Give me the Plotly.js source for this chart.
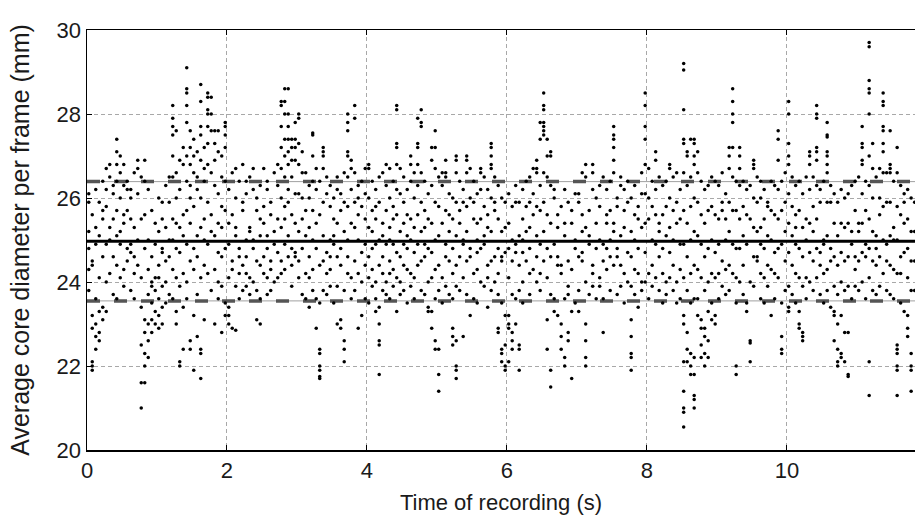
<!DOCTYPE html>
<html><head><meta charset="utf-8">
<script src="https://cdn.plot.ly/plotly-3.0.1.min.js"></script>
<style>html,body{margin:0;padding:0;background:#fff}#chart{width:915px;height:515px}</style>
</head><body><div id="chart"></div>
<script>
// Time bins of 0.05 s; each inner list = diameters (mm) read in that bin
const binWidth = 0.05;
const second0 = [
[26.1,25.9,25.2,24.8,24.3,23.8],
[25.6,24.5,24.4,23.2,22.9,22.1,22.0,21.9],
[26.2,25.3,24.9,23.6,23.0,22.7,22.4],
[25.9,25.1,24.1,23.3,22.8,22.6],
[26.4,25.7,25.5,24.6,23.4,23.1],
[26.7,26.2,24.9,24.0,23.3,25.8],
[26.8,26.5,25.0,25.3,24.2],
[26.3,26.1,25.5,24.6,23.7],
[27.4,27.1,26.8,26.4,25.7,24.4,25.1,23.6],
[27.0,26.6,26.0,25.2,24.9,24.1],
[26.8,26.3,25.4,25.6,24.3,23.9],
[26.4,25.7,24.5,24.8,26.2],
[26.2,26.0,24.7,24.9,23.8,25.5],
[26.6,25.3,24.2,23.6,24.6],
[26.9,26.7,26.1,25.0,24.4],
[26.5,25.5,24.1,23.4,22.5,21.6,21.0],
[26.9,26.4,24.8,23.1,22.8,22.3,22.0,21.6,25.6],
[26.2,25.0,24.3,23.7,23.0,22.6,22.2],
[25.7,24.6,23.9,23.5,23.1,22.8,24.0],
[25.4,24.9,24.1,23.8,23.3,23.0]
];
const second1 = [
[26.0,25.2,24.4,24.1,23.6,22.9,23.2],
[25.5,24.8,24.7,23.9,23.4,23.0,25.9],
[26.3,25.3,24.5,24.0,23.5],
[26.5,25.9,25.0,24.6,23.7],
[28.2,27.9,27.7,27.5,27.0,26.5,25.5,24.3,23.6,25.0],
[27.6,26.6,26.0,24.8,24.1,23.3,23.0,25.4],
[26.9,26.2,25.3,24.7,23.9,22.1,22.0],
[27.2,26.8,25.6,25.1,24.2,23.4,22.4],
[29.1,28.6,28.5,28.2,27.8,27.0,26.4,25.7,24.9,24.0,23.6],
[27.6,27.2,26.8,26.0,25.4,24.5,22.6,22.4,26.3],
[27.4,27.0,26.6,25.8,24.8,24.3,23.2,21.9],
[27.1,26.5,26.2,25.1,24.6,23.7,22.7],
[28.7,28.3,27.7,27.5,26.9,26.0,25.3,24.1,22.4,22.3,21.7],
[27.2,26.7,26.4,25.5,24.4,23.1,25.0],
[28.5,28.4,28.1,28.0,27.7,27.3,26.8,25.9,24.9,24.2],
[28.4,28.0,27.6,26.6,25.6,25.2,23.8],
[27.6,27.3,26.9,26.3,25.1,24.3,23.0],
[27.6,27.1,26.1,25.4,24.7,23.6,24.0],
[27.0,26.5,25.8,24.6,23.9,22.8,25.3],
[27.8,27.7,27.5,27.2,26.4,25.7,24.8,23.5,23.2]
];
const second2 = [
[26.2,25.4,24.9,24.1,23.4,23.2,23.0],
[26.6,25.6,24.3,24.5,22.9],
[26.7,26.0,25.1,23.9,22.85,25.3],
[26.4,24.8,24.6,23.6,24.2],
[26.8,25.9,25.7,24.4,23.8],
[26.1,25.0,24.6,24.2,23.9,26.4],
[26.5,25.3,25.2,24.1,23.7],
[26.7,26.2,25.0,24.0,24.8],
[26.0,25.7,24.5,23.8,23.1],
[26.3,25.1,24.4,23.6,23.0,25.5],
[26.7,25.8,25.4,24.2,24.6],
[26.4,26.2,24.8,24.1,23.7,25.1],
[25.9,25.6,24.5,24.3,23.8],
[26.6,25.2,24.9,24.0],
[26.8,26.3,25.5,24.7,24.1],
[28.3,28.2,27.7,27.2,26.7,26.0,25.3,24.5,24.2],
[28.6,28.3,28.0,27.4,27.0,26.5,25.8,24.9,24.3,25.5],
[28.6,28.0,27.7,27.4,27.1,26.8,26.2,25.1,24.6,25.9],
[27.4,27.2,26.9,26.5,25.6,24.8,24.4,23.9],
[27.8,27.4,27.2,26.9,26.1,25.4,24.6,24.7]
];
const second3 = [
[28.0,27.9,27.3,26.8,26.1,25.2,24.5,24.1],
[27.1,26.6,26.0,25.5,24.8,23.7],
[26.6,25.7,25.1,24.2,23.6],
[26.3,26.0,24.6,24.1,23.4,25.3],
[27.55,27.5,27.0,26.4,25.7,25.0,24.3,23.8],
[26.7,26.2,25.4,24.8,22.9,23.6],
[26.4,25.6,24.4,23.5,22.4,22.3,22.0,21.9,21.75,21.7],
[27.2,27.1,27.0,26.7,25.9,25.1,24.5,23.8],
[26.5,26.1,24.7,24.2,23.7],
[26.3,25.8,25.0,24.3,23.9,24.6],
[26.0,25.5,24.9,23.5,25.1],
[26.5,26.2,25.4,24.6,23.9,23.0],
[26.1,25.7,24.8,24.4,23.1,22.9],
[26.6,25.9,25.2,23.8,22.6,22.4,22.1],
[28.0,27.8,27.6,27.1,27.0,26.5,25.8,25.0,24.2,24.6],
[26.9,26.7,26.2,25.4,23.6,24.1],
[28.2,27.9,26.6,25.9,25.3,24.5,23.8],
[26.3,25.6,25.0,24.2,22.9,26.0],
[26.4,25.8,24.7,24.0,23.2],
[26.7,26.1,25.5,24.4,23.6,24.9]
];
const second4 = [
[26.8,26.7,26.0,25.3,24.6,24.1,23.5],
[26.4,25.7,25.2,24.8,23.9,24.3],
[26.2,25.5,24.9,24.0,23.6,23.3,25.8],
[26.5,25.9,25.0,24.4,23.4,23.0,22.6,22.5,21.8],
[26.6,25.4,25.1,24.6,23.8,24.2],
[26.8,26.3,25.7,24.9,24.0,23.7],
[26.7,26.0,25.3,24.5,24.2,23.6,25.0],
[26.4,25.8,24.9,24.3,23.9,25.5],
[28.2,28.1,27.3,27.2,26.8,26.2,25.6,24.7,24.1,23.3],
[26.7,26.1,25.2,24.6,24.0,23.7],
[26.5,25.9,25.4,24.4,23.8,24.9],
[26.2,25.6,24.8,24.3,23.5,25.1],
[27.0,26.8,26.4,25.5,25.0,24.2,23.9],
[26.6,26.0,25.3,24.7,24.1,23.6],
[27.9,27.3,27.2,26.8,26.3,25.6,24.9,24.4],
[28.1,27.8,27.7,26.6,25.9,25.2,24.5,23.8],
[26.4,25.7,24.9,24.6,23.7,25.3],
[26.1,25.5,24.8,24.0,23.4,23.3],
[27.2,26.9,26.3,25.4,24.7,24.1,23.3,22.9],
[27.6,27.2,26.7,25.9,25.0,24.3,23.6,22.6,22.4]
];
const second5 = [
[26.5,25.8,25.1,24.4,23.8,22.4,21.8,21.4],
[26.6,26.3,25.4,24.1,23.5],
[26.9,26.6,26.5,25.7,24.9,24.6,23.9],
[26.1,25.6,25.2,24.5,23.7],
[26.0,24.8,24.2,23.6,22.9,22.7,22.5,25.5],
[27.0,26.9,26.6,25.9,25.1,24.4,23.9,22.6,22.0,21.9,21.7],
[26.4,25.7,25.4,24.6,23.8],
[26.2,25.0,24.9,24.1,22.7,25.9],
[27.0,26.9,26.6,25.8,25.2,24.5,23.7],
[26.7,26.0,24.8,24.6,23.2],
[26.4,25.9,25.5,24.2,23.6],
[26.1,25.4,24.7,24.3,23.5,25.0],
[26.7,26.6,26.2,25.5,24.8,24.0],
[26.5,25.8,25.1,24.9,23.9],
[26.2,25.6,24.4,24.1,23.4,25.3],
[27.3,27.2,27.0,26.8,26.7,26.0,25.2,24.5,23.8],
[26.5,25.9,25.7,24.6,24.0],
[26.3,25.5,24.8,24.2,23.7,22.9,22.8],
[26.0,25.2,24.6,24.5,23.5,22.4,22.3,22.1],
[25.9,25.3,24.7,23.2,22.5,22.0,21.9]
];
const second6 = [
[26.1,25.4,24.8,24.1,23.2,23.0,22.9,22.1],
[25.8,25.0,24.5,23.7,22.8,22.6,22.4],
[26.3,25.9,24.9,24.7,23.6,23.0],
[25.9,25.1,24.4,23.8,22.5,22.4,21.9],
[26.2,25.5,24.7,24.0,23.5,25.0],
[26.4,25.8,25.2,24.5],
[26.5,25.9,25.3,24.8,24.2,23.7],
[26.7,26.1,25.6,24.3],
[26.9,26.7,26.6,25.8,25.1,24.6,24.0],
[27.4,27.8,26.3,25.7,24.9,24.2,23.8],
[28.5,28.2,28.1,27.8,27.7,27.6,27.5,26.6,25.9,25.2,24.5],
[27.4,27.0,26.5,25.6,24.8,24.1,23.1,22.4],
[27.1,27.0,26.3,25.4,24.6,23.7,21.9,21.5],
[26.2,26.0,24.9,23.6,23.3],
[25.6,25.3,24.6,24.4,23.2],
[25.8,24.4,24.2,23.0,22.7,22.4],
[26.2,25.4,25.1,23.6,22.2,22.0],
[25.9,24.5,23.9,23.7,22.8,22.6],
[25.7,25.4,24.3,23.3,21.7],
[26.1,25.0,24.8,23.5]
];
const second7 = [
[26.1,25.9,24.6,23.8,23.3],
[26.6,25.2,24.7,24.5,25.6],
[26.8,26.5,25.3,24.0,23.0,22.6,22.2,22.0],
[25.7,25.1,24.9,23.7],
[26.8,26.6,26.2,24.4,24.2,23.9],
[26.0,25.4,24.8,23.6],
[26.3,25.8,24.1,23.9,25.0],
[26.5,24.9,24.5,22.8,23.6],
[25.6,25.4,24.3,24.8,26.2],
[25.7,25.0,24.6,23.8,26.4],
[27.7,27.5,27.4,27.2,26.9,26.6,25.4,25.2,24.4],
[26.0,25.8,24.8,24.6,23.7],
[26.5,26.3,24.4,23.9,25.1],
[26.2,25.3,24.2,23.5,25.7],
[26.4,25.9,24.7,24.0],
[26.0,25.2,24.6,23.9,23.1,22.7,22.3,22.2,21.9],
[26.3,25.0,24.3,25.6,23.7],
[25.8,25.5,24.8,24.2,23.4],
[26.6,25.3,24.0,23.8,26.1],
[28.5,28.2,27.7,27.4,26.8,26.1,25.4,24.7,24.0]
];
const second8 = [
[26.7,26.0,25.5,24.2,23.6],
[26.4,25.0,24.4,23.9,25.8],
[27.1,26.9,26.2,25.6,24.9,24.1],
[26.5,25.2,24.6,23.8,25.4],
[26.3,25.6,24.8,24.2,23.5],
[26.4,25.8,25.1,24.0,23.7],
[26.8,26.7,26.0,25.3,24.7,24.1],
[26.5,25.7,24.4,23.8,25.0],
[26.6,25.9,25.4,24.0,23.5],
[26.2,25.5,24.9,24.3,23.6],
[29.2,29.05,28.1,27.4,27.3,26.6,25.7,24.9,24.1,23.2,23.0,22.1,21.4,21.0,20.9,20.55],
[27.1,27.0,26.3,25.4,24.6,23.8,22.8,22.4,22.1],
[27.4,26.5,25.8,25.0,24.2,23.5,22.3,22.0,21.8],
[27.4,27.3,27.0,26.8,26.0,25.2,24.4,23.6,22.2,21.3,21.2,21.0,21.8],
[27.1,26.6,25.9,25.1,24.3,23.6,23.2],
[26.4,25.6,24.9,24.1,23.1,22.9,22.5,22.2],
[26.2,25.4,24.6,23.8,22.9,22.7,22.3,22.0],
[26.3,25.7,24.8,24.0,23.3,22.6,22.2],
[26.5,25.8,25.0,24.2,23.5,23.1],
[26.4,25.6,24.7,24.1,23.2,23.0]
];
const second9 = [
[26.3,25.5,24.2,23.6,24.9],
[26.6,25.9,25.7,24.5,23.9],
[26.1,25.0,24.3,23.7,25.5],
[27.2,27.0,26.7,25.9,25.2,24.4,23.8],
[28.6,28.3,28.0,27.8,27.2,26.5,25.7,24.9,24.2],
[26.4,25.7,24.8,24.1,23.5,22.0,21.8],
[27.2,27.0,26.7,26.3,25.5,24.8,24.0],
[26.4,25.1,24.4,23.7,25.8],
[26.2,25.6,24.9,23.5,23.3],
[26.3,25.5,24.0,22.6,22.55,22.1],
[26.9,26.8,26.7,26.0,25.3,24.6,23.9],
[26.5,25.2,24.5,24.6,25.9],
[26.4,26.0,24.9,24.2,23.6,25.3],
[26.2,24.8,24.1,23.5,25.5],
[25.9,25.8,25.1,24.4,23.9],
[26.4,25.0,24.3,23.2,25.7],
[26.3,25.6,24.7,24.2,23.6],
[27.6,27.4,26.9,26.2,25.5,24.8,24.1],
[26.4,25.7,24.9,23.5,22.7,22.4,22.3],
[26.6,25.2,24.5,23.8,25.9]
];
const second10 = [
[28.3,28.0,27.3,27.0,26.8,26.1,25.4,24.7,23.9,23.4,23.3],
[26.5,25.8,24.4,23.7,25.1],
[26.3,25.6,24.9,24.2,23.5,25.3],
[26.4,25.7,24.8,24.1,23.3,23.0,22.9],
[26.1,25.3,24.6,23.9,22.8,22.7,22.6],
[26.5,25.5,25.0,24.1,23.6],
[27.1,27.0,26.8,26.2,25.4,24.7,24.0],
[26.5,25.2,24.5,23.8,25.8],
[28.2,28.0,27.9,27.2,27.1,26.9,26.3,25.5,24.8,24.1],
[26.2,25.9,24.7,24.4,23.7],
[26.4,25.0,24.9,24.2,23.5],
[27.8,27.5,27.45,27.1,27.0,26.8,26.6,25.9,25.1,24.3,23.8],
[26.3,25.9,24.8,24.5,23.4],
[26.1,25.4,24.6,23.9,23.3,23.2,22.6],
[25.9,25.1,24.4,23.7,23.0,22.4,22.1,22.0],
[26.2,25.4,24.7,24.0,23.2,22.3,22.2],
[26.0,25.3,24.5,23.8,22.8,22.1],
[26.1,25.4,24.6,23.9,22.8,21.8,21.75],
[26.3,25.2,24.9,23.6],
[26.4,25.7,24.6,24.3,23.9]
];
const second11 = [
[26.5,25.4,25.2,24.5,23.8],
[27.7,27.3,27.2,26.9,26.8,26.1,25.4,24.7,24.0],
[26.4,25.7,24.9,24.6,23.6],
[29.7,29.6,28.8,28.6,28.5,28.0,27.0,26.3,25.5,24.8,24.1,22.1,21.3],
[27.3,26.7,26.0,25.2,24.5,23.8],
[26.5,25.1,24.8,24.4,23.7],
[26.7,26.0,25.6,24.6,23.9],
[28.5,28.3,28.2,27.7,27.6,27.3,27.1,26.6,25.8,25.0,24.2],
[26.6,25.9,24.9,24.5,23.8],
[27.6,26.8,26.7,26.6,25.9,25.1,24.4,23.7],
[26.4,25.3,25.0,24.3,23.6],
[27.2,26.6,25.8,25.0,24.2,22.5,22.4,22.3,22.0,21.9,21.3],
[26.3,25.6,24.6,24.2,23.5],
[26.1,25.4,24.7,23.3,25.9],
[26.2,25.5,24.8,24.1,23.2,22.9,22.7],
[26.0,25.2,24.5,23.8,22.3,22.0,21.9,21.4],
[25.9,25.2,24.5,23.8]
];

const meanDiameter = 24.97;
const upperLimit = 26.39;
const lowerLimit = 23.55;
const xTickVals = [0, 2, 4, 6, 8, 10];
const yTickVals = [20, 22, 24, 26, 28, 30];
const xRange = [0, 11.83];
const yRange = [20, 30];

const allBins = [].concat(second0, second1, second2, second3, second4, second5,
  second6, second7, second8, second9, second10, second11);
const times = [], diam = [];
allBins.forEach((vals, i) => {
  vals.forEach(v => { times.push((i + 0.5) * binWidth); diam.push(v); });
});

const fontFam = 'Liberation Sans, Arial, sans-serif';
const txt = '#1a1a1a';
const traces = [
  {x: xRange, y: [upperLimit, upperLimit], mode: 'lines', line: {color: '#a0a0a0', width: 1}, hoverinfo: 'skip'},
  {x: xRange, y: [lowerLimit, lowerLimit], mode: 'lines', line: {color: '#a0a0a0', width: 1}, hoverinfo: 'skip'},
  {x: xRange, y: [upperLimit, upperLimit], mode: 'lines', line: {color: '#555555', width: 3.5, dash: '13px,14px'}, hoverinfo: 'skip'},
  {x: xRange, y: [lowerLimit, lowerLimit], mode: 'lines', line: {color: '#555555', width: 3.5, dash: '13px,14px'}, hoverinfo: 'skip'},
  {x: xRange, y: [meanDiameter, meanDiameter], mode: 'lines', line: {color: '#000000', width: 3}, hoverinfo: 'skip'},
  {x: times, y: diam, mode: 'markers', type: 'scatter',
   marker: {color: '#000000', size: 3.5}}
];

const layout = {
  width: 915, height: 515,
  margin: {l: 87, r: 0, t: 30, b: 65},
  showlegend: false,
  paper_bgcolor: '#ffffff', plot_bgcolor: '#ffffff',
  font: {family: fontFam, color: txt},
  xaxis: {
    range: xRange, tickvals: xTickVals, ticktext: xTickVals.map(String),
    showgrid: true, gridcolor: '#a8a8a8', griddash: '4px,3px', gridwidth: 1,
    zeroline: false, showline: true, linecolor: '#000000', linewidth: 1.5,
    mirror: 'ticks', ticks: 'inside', ticklen: 5, tickcolor: '#000000',
    tickfont: {size: 22, family: fontFam, color: txt},
    title: {text: 'Time of recording (s)', font: {size: 22, family: fontFam, color: txt}, standoff: 16}
  },
  yaxis: {
    range: yRange, tickvals: yTickVals, ticktext: yTickVals.map(String),
    showgrid: true, gridcolor: '#a8a8a8', griddash: '4px,3px', gridwidth: 1,
    zeroline: false, showline: true, linecolor: '#000000', linewidth: 1.5,
    mirror: false, ticks: 'inside', ticklen: 5, tickcolor: '#000000',
    tickfont: {size: 22, family: fontFam, color: txt},
    title: {text: 'Average core diameter per frame (mm)', font: {size: 25, family: fontFam, color: txt}, standoff: 20}
  }
};

Plotly.newPlot('chart', traces, layout, {displayModeBar: false, staticPlot: true});
</script>
</body></html>
